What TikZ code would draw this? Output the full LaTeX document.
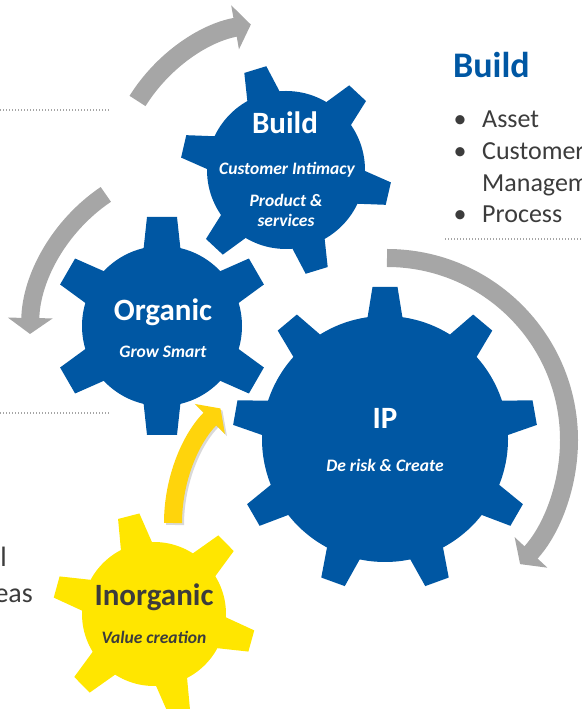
\documentclass[tikz,border=0pt]{standalone}
\usepackage{fontspec}
\setmainfont{Carlito}
\usepackage{tikz}
\usetikzlibrary{arrows.meta}

\definecolor{gearblue}{RGB}{0,87,163}
\definecolor{gearyellow}{RGB}{255,230,0}
\definecolor{arrowyellow}{RGB}{255,212,12}
\definecolor{arrowgray}{RGB}{166,166,166}
\definecolor{textgray}{RGB}{60,60,60}
\definecolor{dotgray}{RGB}{165,165,165}

\tikzset{
  gtitle/.style={text=white, font=\bfseries\fontsize{31}{37}\selectfont, inner sep=0pt},
  gsub/.style={text=white, font=\bfseries\itshape\fontsize{17.5}{20}\selectfont, inner sep=0pt, align=center},
  garrow/.style={arrowgray, line width=19pt, -{Triangle[length=16pt, width=44pt]}},
  yarrow/.style={arrowyellow, line width=18pt, -{Triangle[length=15pt, width=42pt]}},
  sepline/.style={dotgray, line width=1.3pt, dash pattern=on 1.3pt off 1.7pt},
  sidetext/.style={text=textgray, font=\fontsize{26}{31}\selectfont, anchor=base west, inner sep=0pt},
  sidedot/.style={text=textgray, font=\fontsize{26}{31}\selectfont, anchor=base, inner sep=0pt},
}

% gear: centre, teeth, body radius, tip radius, first tooth angle, half width at foot, half width at tip
\newcommand{\gear}[7]{%
  \fill (#1) circle[radius=#3];
  \foreach \k in {1,...,#2}
    \fill[shift={(#1)}, rotate={#5+\k*360/#2}] (#3-8,-#6) -- (#4,-#7) -- (#4,#7) -- (#3-8,#6) -- cycle;
}

\begin{document}
\begin{tikzpicture}[x=1pt, y=1pt]
\useasboundingbox (0,0) rectangle (581,709);
\clip (0,0) rectangle (581,709);

\coordinate (buildc) at (286,539);
\coordinate (organicc) at (162,383);
\coordinate (ipc) at (385,270);
\coordinate (inorgc) at (154,95);

% gears
\begin{scope}[gearblue]
\gear{buildc}{6}{79}{105}{-13}{18}{11.5}
\gear{organicc}{6}{80}{109}{90}{19}{15}
\gear{ipc}{9}{123}{152}{90}{18.5}{12.5}
\end{scope}
\begin{scope}[gearyellow]
\gear{inorgc}{6}{72}{101}{44.5}{17}{11}
\end{scope}

% gear texts
\node[gtitle] (build) at (285,586) {Build};
\node[gsub] (intimacy) at (287,539) {Customer Intimacy};
\node[gsub] (product) at (286,499) {Product \&\\services};
\node[gtitle] (organic) at (163,397) {Organic};
\node[gsub] (grow) at (163,357) {Grow Smart};
\node[gtitle] (ip) at (385,291) {IP};
\node[gsub] (derisk) at (385,244) {De risk \& Create};
\node[gtitle, text=textgray] (inorganic) at (154,112) {Inorganic};
\node[gsub, text=textgray] (value) at (154,72) {Value creation};

% arrows round the gears
\coordinate (toparc) at (280,519);
\coordinate (leftarc) at (202,372);
\coordinate (rightarc) at (387,271);
\coordinate (yelarc) at (335,186);
\draw[garrow] ([shift={(148:168)}]toparc) arc[start angle=148, end angle=100, radius=168];
\draw[garrow, line width=18pt] ([shift={(124:172)}]leftarc) arc[start angle=124, end angle=179, radius=172];
\draw[garrow, line width=18pt] ([shift={(90:180)}]rightarc) arc[start angle=90, end angle=-43, radius=182];
\draw[yarrow, black, opacity=0.15] ([shift={(180:162)}]yelarc) ++(2,-2) arc[start angle=180, end angle=135, radius=162];
\draw[yarrow] ([shift={(180:162)}]yelarc) arc[start angle=180, end angle=135, radius=162];

% dotted separators
\draw[sepline] (0,599) -- (110,599);
\draw[sepline] (0,296) -- (110,296);
\draw[sepline] (445,470) -- (581,470);

% side panel
\node[anchor=base west, text=gearblue, font=\bfseries\fontsize{36}{43}\selectfont, inner sep=0pt] (sidetitle) at (453,631) {Build};
\node[sidedot] (dot1) at (460,581) {\textbullet};
\node[sidetext] (asset) at (482,581) {Asset};
\node[sidedot] (dot2) at (460,549) {\textbullet};
\node[sidetext] (customer) at (482,549) {Customer};
\node[sidetext] (management) at (482,517) {Management};
\node[sidedot] (dot3) at (460,486) {\textbullet};
\node[sidetext] (process) at (482,486) {Process};

% cut text on the left
\node[sidetext, anchor=base east, font=\fontsize{28}{34}\selectfont] (fragl) at (7,142) {l};
\node[sidetext, anchor=base east, font=\fontsize{28}{34}\selectfont] (fragareas) at (33,106) {eas};
\end{tikzpicture}
\end{document}
